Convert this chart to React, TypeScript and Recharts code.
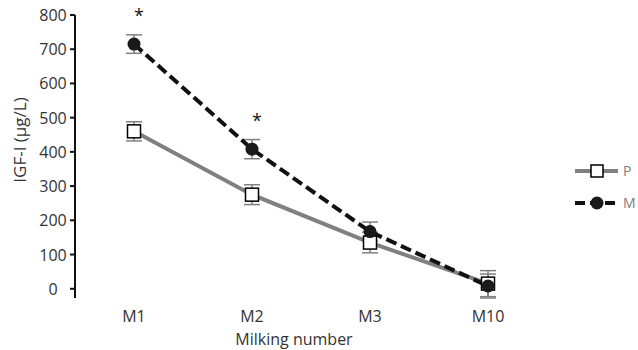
import React from 'react';
import { LineChart, Line, XAxis, YAxis, ErrorBar, Legend, LabelList, Label } from 'recharts';

const milkings = ['M1', 'M2', 'M3', 'M10'];
const pValues = [460, 275, 135, 15];
const pErrors = [28, 29, 30, 38];
const mValues = [715, 408, 167, 8];
const mErrors = [27, 28, 28, 35];
const significant = [true, true, false, false];
const yTicks = [0, 100, 200, 300, 400, 500, 600, 700, 800];

const data = milkings.map((name, i) => ({
  x: i + 0.5,
  name,
  P: pValues[i],
  pErr: pErrors[i],
  M: mValues[i],
  mErr: mErrors[i],
  sig: significant[i] ? '*' : '',
}));

const FONT = '"Open Sans", sans-serif';
const TEXT = '#333';

const YTick = (props: any) => {
  const { x, y, payload } = props;
  return (
    <text x={x - 15} y={y} dy={6} textAnchor="middle" fontSize={16} fontFamily={FONT} fill={TEXT}>
      {payload.value}
    </text>
  );
};

const SquareDot = (props: any) => {
  const { cx, cy } = props;
  if (cx == null || cy == null) return null;
  return <rect x={cx - 6.5} y={cy - 6.5} width={13} height={13} fill="#fff" stroke="#000" strokeWidth={1.5} />;
};

const Star = (props: any) => {
  const { x, y, value } = props;
  if (!value) return null;
  return (
    <text x={x + 5} y={y - 22} textAnchor="middle" fontSize={18} fontFamily={FONT} fill="#111">
      {value}
    </text>
  );
};

const LegendBox = () => (
  <svg width={66} height={50} style={{ display: 'block', overflow: 'visible' }}>
    <line x1={5} y1={11} x2={48} y2={11} stroke="#808080" strokeWidth={4} />
    <rect x={21} y={5} width={12} height={12} fill="#fff" stroke="#000" strokeWidth={1.5} />
    <text x={53} y={16} fontSize={14} fontFamily={FONT} fill="#808080">P</text>
    <line x1={5} y1={43} x2={48} y2={43} stroke="#111" strokeWidth={4} strokeDasharray="10 5" />
    <circle cx={27} cy={43} r={6.5} fill="#1a1a1a" />
    <text x={53} y={48} fontSize={14} fontFamily={FONT} fill="#808080">M</text>
  </svg>
);

export default function App() {
  return (
    <div style={{ position: 'absolute', left: 0, top: 0, width: 638, height: 350, background: '#fff' }}>
      <LineChart width={638} height={350} data={data} margin={{ top: 15, right: 25, bottom: 22, left: 0 }}>
        <XAxis
          xAxisId="frame"
          dataKey="x"
          type="number"
          domain={[0, 4]}
          ticks={[0, 1, 2, 3, 4]}
          tick={false}
          height={0}
          tickSize={5}
          axisLine={{ stroke: '#111', strokeWidth: 2 }}
          tickLine={{ stroke: '#111', strokeWidth: 2 }}
        />
        <XAxis
          xAxisId="cat"
          dataKey="x"
          type="number"
          domain={[0, 4]}
          ticks={data.map((d) => d.x)}
          tickFormatter={(v: number) => milkings[Math.floor(v)]}
          axisLine={false}
          tickLine={false}
          tickSize={0}
          tickMargin={13}
          height={30}
          tick={{ fontSize: 16, fontFamily: FONT, fill: TEXT }}
        >
          <Label
            content={(p: any) => {
              const vb = p.viewBox;
              return (
                <text x={vb.x + vb.width / 2 - 17} y={vb.y + 47} textAnchor="middle" fontSize={16} fontFamily={FONT} fill={TEXT}>
                  Milking number
                </text>
              );
            }}
          />
        </XAxis>
        <YAxis
          type="number"
          domain={[0, 800]}
          ticks={yTicks}
          width={75}
          tickSize={5}
          axisLine={{ stroke: '#111', strokeWidth: 2 }}
          tickLine={{ stroke: '#111', strokeWidth: 2 }}
          tick={<YTick />}
        >
          <Label
            content={() => {
              const cx = 20;
              const cy = 140;
              return (
                <text x={cx} y={cy} transform={`rotate(-90 ${cx} ${cy})`} textAnchor="middle" dy={6} fontSize={17} fontFamily={FONT} fill={TEXT}>
                  IGF-I (µg/L)
                </text>
              );
            }}
          />
        </YAxis>
        <Legend
          layout="vertical"
          align="right"
          verticalAlign="middle"
          content={<LegendBox />}
          wrapperStyle={{ left: 570, top: 160, width: 66, height: 50 }}
        />
        <Line
          xAxisId="cat"
          dataKey="P"
          stroke="#808080"
          strokeWidth={4}
          dot={<SquareDot />}
          activeDot={false}
          isAnimationActive={false}
        >
          <ErrorBar dataKey="pErr" direction="y" width={8} stroke="#808080" strokeWidth={1.5} />
        </Line>
        <Line
          xAxisId="cat"
          dataKey="M"
          stroke="#111"
          strokeWidth={4}
          strokeDasharray="11 5"
          dot={{ r: 6.5, fill: '#1a1a1a', stroke: 'none' }}
          activeDot={false}
          isAnimationActive={false}
        >
          <ErrorBar dataKey="mErr" direction="y" width={8} stroke="#808080" strokeWidth={1.5} />
          <LabelList dataKey="sig" content={<Star />} />
        </Line>
      </LineChart>
    </div>
  );
}
